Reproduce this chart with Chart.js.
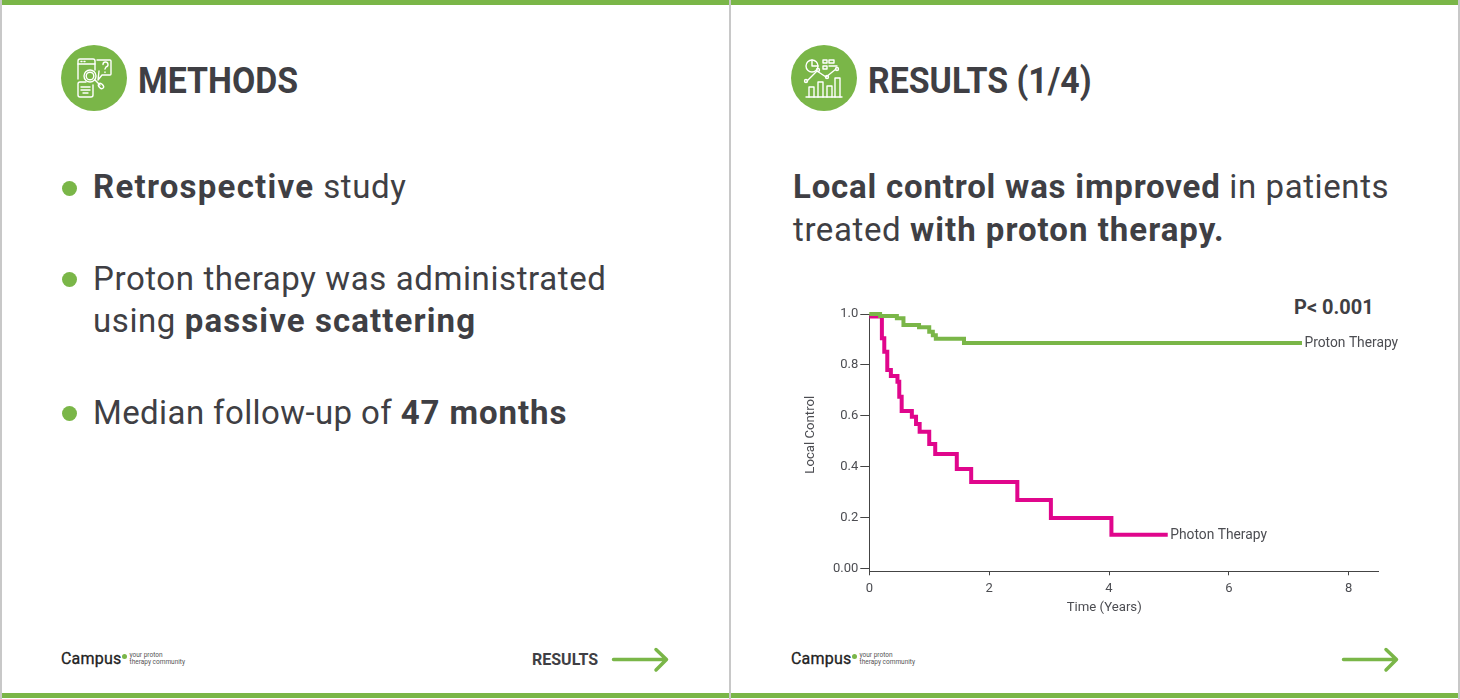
<!DOCTYPE html>
<html>
<head>
<meta charset="utf-8">
<title>Methods / Results</title>
<script src="https://cdn.jsdelivr.net/npm/chart.js@4"></script>
<style>
html, body { margin: 0; padding: 0; background: #fff; }
#slide { position: relative; width: 1460px; height: 699px; overflow: hidden; background: #fff; font-family: Roboto, sans-serif; color: #3f3f44; }
.bar { position: absolute; background: #7ab648; }
.rule { position: absolute; background: #c8c8c8; top: 0; width: 2px; height: 699px; }
.txt { position: absolute; white-space: nowrap; }
.head { font-size: 37px; font-weight: 700; line-height: 44px; top: 59px; transform: scaleX(0.915); transform-origin: left center; }
.body { font-size: 33px; line-height: 43px; font-weight: 400; letter-spacing: 0.6px; }
.body b { font-weight: 700; letter-spacing: 1.1px; }
.dot { position: absolute; width: 15px; height: 15px; border-radius: 50%; background: #7ab648; left: 61.5px; }
.logo { font-size: 16px; font-weight: 400; top: 649px; line-height: 20px; color: #222; letter-spacing: 0.2px; -webkit-text-stroke: 0.3px #222; }
.tag { font-size: 6.5px; line-height: 7px; top: 652px; color: #555; }
.ldot { position: absolute; width: 5px; height: 5px; border-radius: 50%; background: #7ab648; top: 654px; }
svg { position: absolute; overflow: visible; }
#chartWrap { position: absolute; left: 790px; top: 290px; width: 640px; height: 340px; }
</style>
</head>
<body>
<div id="slide">
  <div class="bar" style="left:0;top:0;width:1460px;height:5px"></div>
  <div class="bar" style="left:0;top:693px;width:1460px;height:5px"></div>
  <div class="rule" style="left:0"></div>
  <div class="rule" style="left:729px"></div>
  <div class="rule" style="left:1458px"></div>

  <!-- left panel -->
  <svg style="left:61px;top:45px" width="66" height="66" viewBox="0 0 66 66">
    <circle cx="33" cy="33" r="33" fill="#7ab648"/>
    <g fill="none" stroke="#fff" stroke-width="1.4" stroke-linejoin="round" stroke-linecap="round">
      <path d="M17 34V16a2 2 0 0 1 2-2h13a2 2 0 0 1 2 2v9"/>
      <path d="M17 19h17M20 16.500h1M23 16.500h1"/>
      <path d="M36 15h13a1 1 0 0 1 1 1v13a1 1 0 0 1-1 1h-8l-4 5 1-9"/>
      <circle cx="29" cy="31" r="6"/><circle cx="29" cy="31" r="3.800"/>
      <path d="M34 35l5 5"/><ellipse cx="40" cy="41" rx="2" ry="3" transform="rotate(-45 40 41)"/>
      <path d="M25 37h-6a2 2 0 0 0-2 2v11a2 2 0 0 0 2 2h11a2 2 0 0 0 2-2v-10"/>
      <path d="M20 42h9M20 45h9M22 48h5"/>
      <path d="M42 19.500a2.500 2.500 0 1 1 3 2.500l-1 2M44 27v.5"/>
    </g>
  </svg>
  <div class="txt head" style="left:138px">METHODS</div>
  <div class="dot" style="top:181px"></div>
  <div class="txt body" style="left:93px;top:165px"><b style="letter-spacing:1.25px">Retrospective</b> study</div>
  <div class="dot" style="top:272px"></div>
  <div class="txt body" style="left:93px;top:257px">Proton therapy was administrated</div>
  <div class="txt body" style="left:93px;top:299px">using <b>passive scattering</b></div>
  <div class="dot" style="top:406px"></div>
  <div class="txt body" style="left:93px;top:391px;letter-spacing:0.4px">Median follow-up of <b style="letter-spacing:0.9px">47 months</b></div>

  <div class="txt logo" style="left:61px">Campus</div>
  <div class="ldot" style="left:121.500px"></div>
  <div class="txt tag" style="left:129.500px">your proton<br>therapy community</div>
  <div class="txt" style="left:532px;top:650px;font-size:16px;font-weight:700;line-height:20px">RESULTS</div>
  <svg style="left:0;top:0" width="1" height="1">
    <g fill="none" stroke="#7ab648" stroke-width="3.500" stroke-linecap="round" stroke-linejoin="round">
      <path d="M613.500 659.500H666M656 649.500L666.500 659.500L656 670"/>
      <path d="M1343.500 659.500H1396M1386 649.500L1396.500 659.500L1386 670"/>
    </g>
  </svg>

  <!-- right panel -->
  <svg style="left:791px;top:45px" width="66" height="66" viewBox="0 0 66 66">
    <circle cx="33" cy="33" r="33" fill="#7ab648"/>
    <g fill="none" stroke="#fff" stroke-width="1.4" stroke-linejoin="round" stroke-linecap="round">
      <circle cx="21" cy="21" r="6"/><path d="M21 15v6h6"/>
      <path d="M32 15h4v3h-4zM38 15h5v3h-5zM32 21h4v3h-4zM38 21h8"/>
      <path d="M15 52h36"/>
      <path d="M18 52V42h5v10M27 52V37h5v15M36 52V41h5v11M44 52V33h5v19"/>
      <path d="M16 36l10-10 9 6 10-8" />
      <circle cx="15" cy="36" r="1.500"/><circle cx="27" cy="25" r="1.500"/><circle cx="36" cy="32" r="1.500"/><circle cx="46" cy="24" r="1.500"/>
    </g>
  </svg>
  <div class="txt head" style="left:868px">RESULTS (1/4)</div>
  <div class="txt body" style="left:793px;top:165px"><b style="letter-spacing:0.8px">Local control was improved</b> in patients</div>
  <div class="txt body" style="left:793px;top:208px">treated <b style="letter-spacing:1px">with proton therapy.</b></div>
  <div class="txt" style="left:1294px;top:295px;font-size:20px;font-weight:700;line-height:24px">P&lt; 0.001</div>

  <div id="chartWrap"><canvas id="kmChart" width="640" height="340"></canvas></div>

  <div class="txt logo" style="left:791px">Campus</div>
  <div class="ldot" style="left:851.500px"></div>
  <div class="txt tag" style="left:859.500px">your proton<br>therapy community</div>
</div>

<script>
// values (years, local control)
var protonTimes = [0, 0.18, 0.46, 0.57, 0.83, 1.0, 1.06, 1.11, 1.58, 7.22];
var protonControl = [1.0, 0.992, 0.983, 0.957, 0.948, 0.93, 0.917, 0.903, 0.886, 0.886];
var photonTimes = [0, 0.19, 0.21, 0.25, 0.30, 0.36, 0.47, 0.50, 0.54, 0.71, 0.78, 0.84, 1.0, 1.10, 1.46, 1.70, 2.47, 3.03, 4.04, 4.98];
var photonControl = [0.99, 0.99, 0.905, 0.852, 0.78, 0.757, 0.734, 0.675, 0.619, 0.597, 0.568, 0.538, 0.49, 0.45, 0.391, 0.34, 0.27, 0.199, 0.133, 0.133];

var xTickValues = [0, 2, 4, 6, 8];
var yTickValues = [0, 0.2, 0.4, 0.6, 0.8, 1.0];
var yTickLabels = ['0.00', '0.2', '0.4', '0.6', '0.8', '1.0'];

var xTitle = 'Time (Years)';
var yTitle = 'Local Control';
var seriesNames = ['Proton Therapy', 'Photon Therapy'];

let plotColors = { proton: '#7ab648', photon: '#e0068c', axis: '#444444', text: '#4c4d52' };

var toPoints = function (xs, ys) {
	return xs.map(function (x, i) { return { x: x, y: ys[i] }; });
};

// end-of-line labels and the off-centre axis titles
var annotations = {
	id: 'annotations',
	afterDraw: function (chart) {
		var ctx = chart.ctx;
		ctx.save();
		ctx.fillStyle = plotColors.text;
		ctx.font = '400 13.8px Roboto';
		ctx.textBaseline = 'middle';
		ctx.textAlign = 'left';
		chart.data.datasets.forEach(function (ds, i) {
			var last = ds.data[ds.data.length - 1];
			ctx.fillText(seriesNames[i], chart.scales.x.getPixelForValue(last.x) + 2.5, chart.scales.y.getPixelForValue(last.y) + 1);
		});
		ctx.font = '400 13.2px Roboto';
		ctx.textAlign = 'center';
		ctx.fillText(xTitle, chart.scales.x.getPixelForValue(3.92), chart.chartArea.bottom + 36);
		ctx.translate(chart.scales.y.left + 20.5, chart.scales.y.getPixelForValue(0.526));
		ctx.rotate(-Math.PI / 2);
		ctx.fillText(yTitle, 0, 0);
		ctx.restore();
	}
};

new Chart(document.getElementById('kmChart'), {
	type: 'line',
	data: {
		datasets: [
			{
				label: seriesNames[0],
				data: toPoints(protonTimes, protonControl),
				borderColor: plotColors.proton,
				borderWidth: 4,
				stepped: true,
				pointRadius: 0,
				clip: false
			},
			{
				label: seriesNames[1],
				data: toPoints(photonTimes, photonControl),
				borderColor: plotColors.photon,
				borderWidth: 4,
				stepped: true,
				pointRadius: 0,
				clip: false
			}
		]
	},
	options: {
		responsive: false,
		animation: false,
		layout: { padding: { left: 0, right: 51.3, top: 24, bottom: 0 } },
		plugins: { legend: { display: false }, tooltip: { enabled: false } },
		scales: {
			x: {
				type: 'linear',
				min: 0,
				max: 8.5,
				afterFit: function (scale) { scale.height = 58.7; },
				afterBuildTicks: function (scale) {
					scale.ticks = xTickValues.map(function (v) { return { value: v }; });
				},
				border: { color: plotColors.axis, width: 1 },
				grid: { drawOnChartArea: false, drawTicks: true, tickLength: 4, color: plotColors.axis },
				ticks: {
					color: plotColors.text,
					padding: 6,
					maxRotation: 0,
					font: { family: 'Roboto', weight: '400', size: 13 }
				}
			},
			y: {
				type: 'linear',
				min: -0.0103,
				max: 1.0,
				afterFit: function (scale) { scale.width = 79.3; },
				afterBuildTicks: function (scale) {
					scale.ticks = yTickValues.map(function (v) { return { value: v }; });
				},
				border: { color: plotColors.axis, width: 1 },
				grid: { drawOnChartArea: false, drawTicks: true, tickLength: 9, color: plotColors.axis },
				ticks: {
					color: plotColors.text,
					padding: 2,
					callback: function (value) {
						return yTickLabels[yTickValues.indexOf(value)];
					},
					font: { family: 'Roboto', weight: '400', size: 13 }
				}
			}
		}
	},
	plugins: [annotations]
});
</script>
</body>
</html>
